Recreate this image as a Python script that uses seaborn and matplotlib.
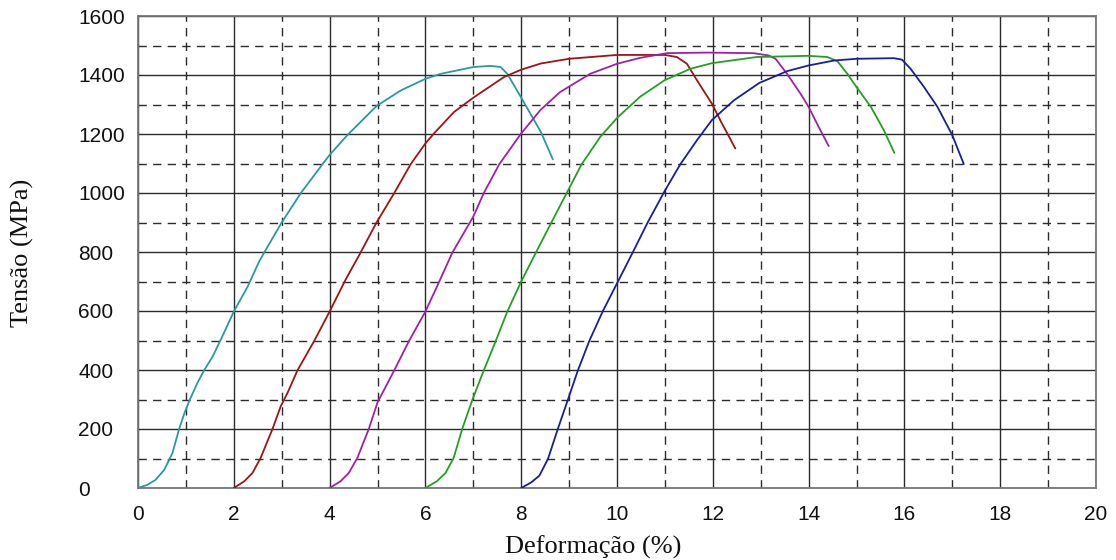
import matplotlib
matplotlib.use("Agg")
import matplotlib.pyplot as plt
from matplotlib.ticker import MultipleLocator
import seaborn as sns
import pandas as pd

# ---- data (strain %, stress MPa) ----
cp1_x = [0, 0.2, 0.37, 0.55, 0.72, 0.86, 0.97, 1.08, 1.24, 1.38, 1.56, 1.76, 2.0, 2.29, 2.53, 2.63, 3.0, 3.40, 3.85, 4.0,
         4.37, 4.98, 5.49, 6.0, 6.32, 7.0, 7.36, 7.57, 7.71, 7.99, 8.41, 8.66]
cp1_y = [0, 11, 28, 62, 119, 201, 254, 299, 356, 399, 446, 514, 598, 683, 768, 797, 900, 1000, 1097, 1129,
         1196, 1295, 1348, 1387, 1404, 1427, 1431, 1427, 1404, 1326, 1207, 1114]

cp2_x = [2.0, 2.22, 2.39, 2.56, 2.81, 2.98, 3.12, 3.33, 3.68, 4.0, 4.33, 4.62, 4.98, 5.35, 5.69, 6.0, 6.18, 6.60, 7.0,
         7.64, 8.0, 8.41, 9.0, 10.0, 11.0, 11.25, 11.46, 11.67, 11.98, 12.19, 12.47]
cp2_y = [0, 23, 51, 102, 201, 277, 322, 399, 499, 598, 705, 790, 900, 1000, 1097, 1168, 1202, 1275, 1323,
         1393, 1418, 1439, 1455, 1468, 1468, 1461, 1438, 1382, 1303, 1236, 1151]

cp3_x = [4.0, 4.23, 4.40, 4.58, 4.82, 5.0, 5.35, 5.66, 6.0, 6.29, 6.56, 7.0, 7.22, 7.54, 8.0, 8.40, 8.81, 9.44, 10.0,
         10.48, 11.04, 11.88, 12.85, 13.17, 13.31, 13.55, 13.83, 13.99, 14.21, 14.42]
cp3_y = [0, 23, 51, 102, 201, 290, 399, 499, 598, 700, 797, 920, 1000, 1097, 1202, 1281, 1342, 1404, 1438,
         1458, 1474, 1476, 1474, 1466, 1455, 1404, 1337, 1295, 1224, 1159]

cp4_x = [6.0, 6.24, 6.42, 6.59, 6.77, 6.98, 7.22, 7.47, 7.71, 8.0, 8.31, 8.63, 8.95, 9.26, 9.65, 10.01, 10.48, 10.99,
         11.53, 11.98, 12.92, 13.99, 14.39, 14.6, 14.81, 15.0, 15.3, 15.57, 15.79]
cp4_y = [0, 23, 51, 102, 201, 299, 399, 499, 598, 700, 799, 900, 1000, 1097, 1190, 1256, 1326, 1382,
         1421, 1440, 1461, 1465, 1461, 1447, 1404, 1359, 1292, 1213, 1136]

cp5_x = [8.0, 8.21, 8.38, 8.56, 8.76, 8.97, 9.18, 9.42, 9.70, 10.02, 10.33, 10.64, 10.99, 11.32, 11.67, 11.98, 12.44,
         12.97, 13.55, 13.99, 14.53, 15.0, 15.78, 15.95, 16.13, 16.41, 16.69, 17.0, 17.24]
cp5_y = [0, 19, 42, 99, 198, 297, 397, 498, 598, 700, 799, 900, 1005, 1097, 1179, 1247, 1314,
         1373, 1413, 1432, 1449, 1455, 1457, 1452, 1421, 1359, 1292, 1196, 1098]

series_names = ["CP1", "CP2", "CP3", "CP4", "CP5"]
series_x = [cp1_x, cp2_x, cp3_x, cp4_x, cp5_x]
series_y = [cp1_y, cp2_y, cp3_y, cp4_y, cp5_y]
colors = ["#2a9a9a", "#9e1414", "#a020a8", "#22a022", "#1c1c9c"]

x_ticks = [0, 2, 4, 6, 8, 10, 12, 14, 16, 18, 20]
y_ticks = [0, 200, 400, 600, 800, 1000, 1200, 1400, 1600]

frames = []
for n, xs, ys in zip(series_names, series_x, series_y):
    frames.append(pd.DataFrame({"x": xs, "y": ys, "cp": n}))
df = pd.concat(frames, ignore_index=True)

sns.set_style("white")
fig = plt.figure(figsize=(11.16, 5.6), dpi=100)
ax = fig.add_axes([138/1116, 1-488/560, (1096-138)/1116, (488-16)/560])

sns.lineplot(data=df, x="x", y="y", hue="cp", palette=colors, sort=False,
             estimator=None, units="cp", lw=1.3, legend=False, ax=ax, zorder=3)

ax.set_xlim(0, 20)
ax.set_ylim(0, 1600)
ax.xaxis.set_major_locator(MultipleLocator(2))
ax.xaxis.set_minor_locator(MultipleLocator(1))
ax.yaxis.set_major_locator(MultipleLocator(200))
ax.yaxis.set_minor_locator(MultipleLocator(100))
ax.set_xticks(x_ticks)
ax.set_yticks(y_ticks)

ax.grid(which="major", color="#2b2b2b", lw=1.0, ls="-", zorder=1)
ax.grid(which="minor", color="#2b2b2b", lw=1.0, ls=(0, (6, 4.5)), zorder=1)
ax.set_axisbelow(True)

for s in ax.spines.values():
    s.set_color("#777777")
    s.set_linewidth(1.3)

tick_font = ["Liberation Sans", "DejaVu Sans"]
ax.tick_params(which="both", length=0)
ax.tick_params(axis="x", pad=12.5)
ax.tick_params(axis="y", pad=43)
for lab in ax.get_xticklabels():
    lab.set_fontfamily(tick_font)
    lab.set_fontsize(15)
    lab.set_color("#111111")
for lab in ax.get_yticklabels():
    lab.set_fontfamily(tick_font)
    lab.set_fontsize(15)
    lab.set_color("#111111")
    lab.set_horizontalalignment("left")

label_font = ["Liberation Serif", "DejaVu Serif"]
ax.set_xlabel("Deformação (%)", fontfamily=label_font, fontsize=19, color="#111111")
ax.set_ylabel("Tensão (MPa)", fontfamily=label_font, fontsize=19, color="#111111")
ax.xaxis.set_label_coords((593-138)/(1096-138), -(547-488)/(488-16), transform=ax.transAxes)
ax.yaxis.set_label_coords(-(138-22)/(1096-138), (488-253)/(488-16), transform=ax.transAxes)
ax.xaxis.label.set_va("center")
ax.yaxis.label.set_va("center")

fig.savefig("out.png", dpi=100)
